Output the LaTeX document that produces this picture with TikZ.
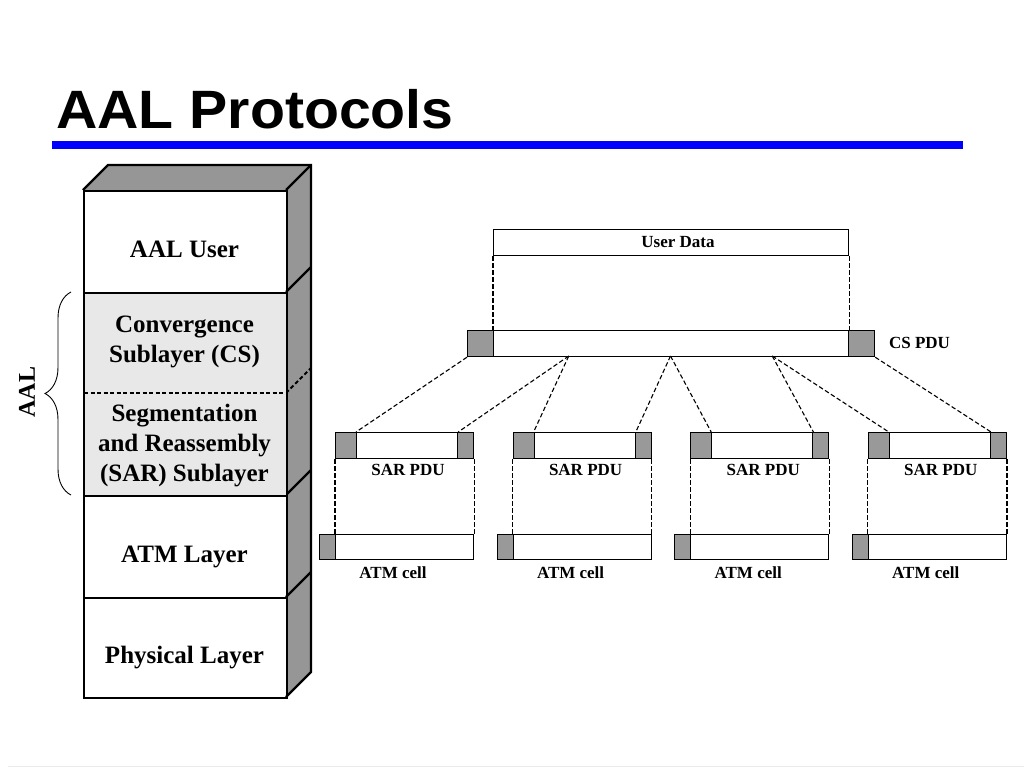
\documentclass[tikz,border=0pt]{standalone}
\usepackage{fontspec}
\usepackage{graphicx}
\setmainfont{Liberation Serif}
\newfontfamily\titlefont{Liberation Sans}
\usetikzlibrary{decorations.pathreplacing,calc}
\definecolor{hdrgray}{RGB}{153,153,153}
\definecolor{sidegray}{RGB}{150,150,150}
\definecolor{sublight}{RGB}{232,232,232}
\definecolor{titleblue}{RGB}{0,0,255}
\begin{document}
\begin{tikzpicture}[x=1pt,y=-1pt,
  layer/.style={draw, line width=2.4pt, inner sep=0, minimum width=203pt},
  lbl/.style={font=\fontsize{25}{30}\selectfont\bfseries, align=center, inner sep=0},
  hdr/.style={draw, line width=1.2pt, fill=hdrgray, inner sep=0, minimum height=26pt},
  body/.style={draw, line width=1.2pt, fill=white, inner sep=0, minimum height=26pt},
  small/.style={font=\fontsize{17}{19}\selectfont\bfseries, inner sep=0, anchor=base},
  dsh/.style={line width=1.1pt, dash pattern=on 4.5pt off 2.5pt},
  thick3d/.style={line width=2.4pt, line join=miter},
]
\fill[white] (0,0) rectangle (1024,768);
\useasboundingbox (0,0) rectangle (1024,768);

% title
\node[anchor=base west, inner sep=0, font={\titlefont\fontsize{54}{60}\selectfont\bfseries}] (title) at (56,128) {\scalebox{1.06}[1]{AAL Protocols}};
\node[fill=titleblue, minimum width=911pt, minimum height=8pt, inner sep=0, anchor=north west] (bar) at (52,141) {};

% stack 3D faces
\fill[sidegray] (286,190) -- (311,165) -- (311,672) -- (286,697) -- cycle;
\fill[sidegray] (83,190) -- (108,165) -- (311,165) -- (286,190) -- cycle;
\draw[thick3d] (83,190) -- (108,165) -- (311,165) -- (311,672) -- (286,697);
\draw[thick3d] (286,190) -- (311,165);
\draw[thick3d] (286,292) -- (311,267);
\draw[line width=1.8pt, dash pattern=on 4pt off 2.5pt] (286,393) -- (311,368);
\draw[thick3d] (286,495) -- (311,470);
\draw[thick3d] (286,597) -- (311,572);

% stack layers
\node[layer, minimum height=102pt, anchor=north west] (user) at (83,190) {};
\node[layer, fill=sublight, minimum height=203pt, anchor=north west] (aal) at (83,292) {};
\node[layer, minimum height=102pt, anchor=north west] (atm) at (83,495) {};
\node[layer, minimum height=100pt, anchor=north west] (phys) at (83,597) {};
\draw[line width=1.8pt, dash pattern=on 4pt off 2.5pt] ($(aal.north west)+(1.2,101)$) -- ($(aal.north east)+(-1.2,101)$);

\node[lbl, anchor=base] (tuser) at (184.5,257) {AAL User};
\node[lbl] (tcs) at (184.5,342) {Convergence\\Sublayer (CS)};
\node[lbl] (tsar) at (184.5,446) {Segmentation\\and Reassembly\\(SAR) Sublayer};
\node[lbl, anchor=base] (tatm) at (184.5,562) {ATM Layer};
\node[lbl, anchor=base] (tphys) at (184.5,663) {Physical Layer};

% AAL brace
\draw[line width=0.9pt, decorate, decoration={brace, amplitude=26pt}] (71,495) -- (71,292);
\node[font=\fontsize{24}{28}\selectfont\bfseries, rotate=90, inner sep=0] (taal) at (27,392) {AAL};

% user data and CS PDU
\node[body, minimum width=355pt, anchor=north west] (ud) at (493,229) {};
\node[small] (udt) at (678,247) {User Data};
\node[hdr, minimum width=26pt, anchor=north west] (csl) at (467,330) {};
\node[body, minimum width=355pt, anchor=north west] (csb) at (493,330) {};
\node[hdr, minimum width=26pt, anchor=north west] (csr) at (848,330) {};
\node[small] (cst) at (919.5,348) {CS PDU};
\draw[dsh] (ud.south west) -- (csb.north west);
\draw[dsh] (ud.south east) -- (csb.north east);

% SAR PDUs and ATM cells
\foreach \i/\L in {1/335,2/512.6,3/690.2,4/867.8}{
  \node[hdr, minimum width=21pt, anchor=north west] (sl\i) at (\L,432) {};
  \node[body, minimum width=101pt, anchor=north west] (sb\i) at (\L+21,432) {};
  \node[hdr, minimum width=16pt, anchor=north west] (sr\i) at (\L+122,432) {};
  \node[small] (st\i) at (\L+73,475) {SAR PDU};
  \node[hdr, minimum width=16pt, minimum height=25pt, anchor=north west] (ah\i) at (\L-16,534) {};
  \node[body, minimum width=138pt, minimum height=25pt, anchor=north west] (ab\i) at (\L,534) {};
  \node[small] (at\i) at (\L+58,578) {ATM cell};
  \draw[dsh] (sl\i.south west) -- (ab\i.north west);
  \draw[dsh] (sr\i.south east) -- (ab\i.north east);
}

% segmentation lines
\coordinate (c0) at (csl.south west);
\coordinate (c1) at (568.75,356);
\coordinate (c2) at (670.5,356);
\coordinate (c3) at (772.25,356);
\coordinate (c4) at (csr.south east);
\draw[dsh] (c0) -- (sb1.north west);
\draw[dsh] (c1) -- (sb1.north east);
\draw[dsh] (c1) -- (sb2.north west);
\draw[dsh] (c2) -- (sb2.north east);
\draw[dsh] (c2) -- (sb3.north west);
\draw[dsh] (c3) -- (sb3.north east);
\draw[dsh] (c3) -- (sb4.north west);
\draw[dsh] (c4) -- (sb4.north east);

\draw[black!8, line width=1pt] (8,766.5) -- (1024,766.5);
\end{tikzpicture}
\end{document}
